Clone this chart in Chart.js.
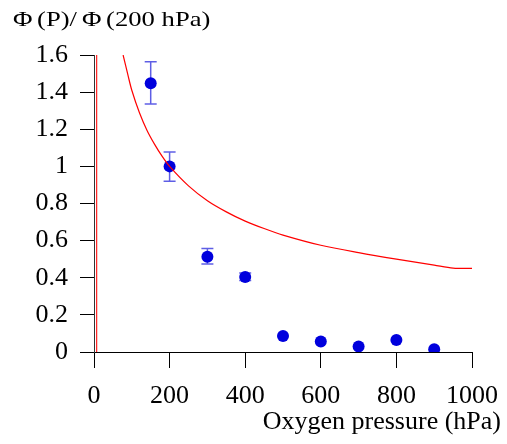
<!DOCTYPE html>
<html><head><meta charset="utf-8">
<script src="https://cdn.jsdelivr.net/npm/chart.js@4/dist/chart.umd.min.js"></script>
<style>html,body{margin:0;padding:0;background:#fff}#wrap{width:507px;height:444px}</style>
</head><body><div id="wrap"><canvas id="c" width="507" height="444"></canvas></div>
<script>
// measured data
const pressure = [150, 200, 300, 400, 500, 600, 700, 800, 900];
const phiRatio = [1.448, 1.0, 0.513, 0.404, 0.086, 0.056, 0.030, 0.065, 0.015];
const errLow  = [1.336, 0.92, 0.474, 0.385, null, null, null, null, null];
const errHigh = [1.563, 1.078, 0.557, 0.425, null, null, null, null, null];
// model curve
const curveP   = [77, 90, 100, 120, 140, 160, 180, 200, 250, 300, 350, 400, 450, 500, 600, 700, 800, 900, 950, 1000];
const curvePhi = [1.6, 1.49, 1.41, 1.29, 1.195, 1.12, 1.055, 1.0, 0.895, 0.815, 0.755, 0.705, 0.665, 0.63, 0.575, 0.535, 0.5, 0.468, 0.452, 0.45];
// vertical reference line
const vlineP = [7, 7];
const vlinePhi = [0, 1.6];
const xTicks = [0, 200, 400, 600, 800, 1000];
const xTickLabels = ['0', '200', '400', '600', '800', '1000'];
const yTicks = [0, 0.2, 0.4, 0.6, 0.8, 1, 1.2, 1.4, 1.6];
const yTickLabels = ['0', '0.2', '0.4', '0.6', '0.8', '1', '1.2', '1.4', '1.6'];
const yTitleParts = ['Φ', '(P)/', 'Φ', '(200 hPa)'];
const xTitle = 'Oxygen pressure (hPa)';

const FONT = '"Liberation Serif", "Times New Roman", serif';
Chart.defaults.font.family = FONT;
Chart.defaults.color = '#000';

const errorBars = {
  id: 'errorBars',
  beforeDatasetsDraw(chart) {
    const ctx = chart.ctx, xs = chart.scales.x, ys = chart.scales.y;
    ctx.save();
    ctx.strokeStyle = 'rgba(40,40,220,0.75)';
    ctx.lineWidth = 1.5;
    for (let i = 0; i < pressure.length; i++) {
      if (errLow[i] == null) continue;
      const px = xs.getPixelForValue(pressure[i]);
      const y1 = ys.getPixelForValue(errLow[i]);
      const y2 = ys.getPixelForValue(errHigh[i]);
      ctx.beginPath();
      ctx.moveTo(px, y1); ctx.lineTo(px, y2);
      ctx.moveTo(px - 6, y1); ctx.lineTo(px + 6, y1);
      ctx.moveTo(px - 6, y2); ctx.lineTo(px + 6, y2);
      ctx.stroke();
    }
    ctx.restore();
  }
};
const titles = {
  id: 'titles',
  afterDraw(chart) {
    const ctx = chart.ctx;
    ctx.save();
    ctx.fillStyle = '#000';
    ctx.textBaseline = 'alphabetic';
    ctx.textAlign = 'left';
    ctx.font = '21px ' + FONT;
    const starts = [13, 37, 82, 106];
    yTitleParts.forEach((t, i) => {
      ctx.save();
      ctx.translate(starts[i], 26);
      ctx.scale(1.27, 1);
      ctx.fillText(t, 0, 0);
      ctx.restore();
    });
    ctx.font = '26px ' + FONT;
    ctx.textAlign = 'right';
    ctx.fillText(xTitle, 501, 429);
    ctx.restore();
  }
};

new Chart(document.getElementById('c'), {
  type: 'scatter',
  data: {
    datasets: [
      {
        data: vlineP.map((p, i) => ({x: p, y: vlinePhi[i]})),
        showLine: true, borderColor: '#ff2020', borderWidth: 1.2, pointRadius: 0
      },
      {
        data: curveP.map((p, i) => ({x: p, y: curvePhi[i]})),
        showLine: true, borderColor: '#ff0000', borderWidth: 1.2, pointRadius: 0, tension: 0.3
      },
      {
        data: pressure.map((p, i) => ({x: p, y: phiRatio[i]})),
        pointRadius: 6, pointBackgroundColor: '#0000dd', pointBorderColor: '#0000dd', pointBorderWidth: 0
      }
    ]
  },
  options: {
    responsive: false, animation: false,
    layout: {padding: {left: 0, top: 55, right: 35, bottom: 0}},
    plugins: {legend: {display: false}, tooltip: {enabled: false}},
    scales: {
      x: {
        type: 'linear', min: 0, max: 1000,
        afterBuildTicks(s) { s.ticks = xTicks.map(v => ({value: v})); },
        afterFit(s) { s.height = 92; s.paddingLeft = 0; s.paddingRight = 0; },
        grid: {drawOnChartArea: false, tickLength: 16, color: '#000', tickColor: '#000'},
        border: {color: '#000', width: 1},
        ticks: {font: {size: 26}, padding: 13, maxRotation: 0,
          callback: (v, i) => xTickLabels[xTicks.indexOf(v)]}
      },
      y: {
        type: 'linear', min: 0, max: 1.6,
        afterBuildTicks(s) { s.ticks = yTicks.map(v => ({value: v})); },
        afterFit(s) { s.width = 94; s.paddingTop = 0; s.paddingBottom = 0; },
        grid: {drawOnChartArea: false, tickLength: 14, color: '#000', tickColor: '#000'},
        border: {color: '#333', width: 1},
        ticks: {font: {size: 26}, padding: 12,
          callback: (v) => yTickLabels[yTicks.findIndex(t => Math.abs(t - v) < 1e-6)]}
      }
    }
  },
  plugins: [errorBars, titles]
});
</script></body></html>
